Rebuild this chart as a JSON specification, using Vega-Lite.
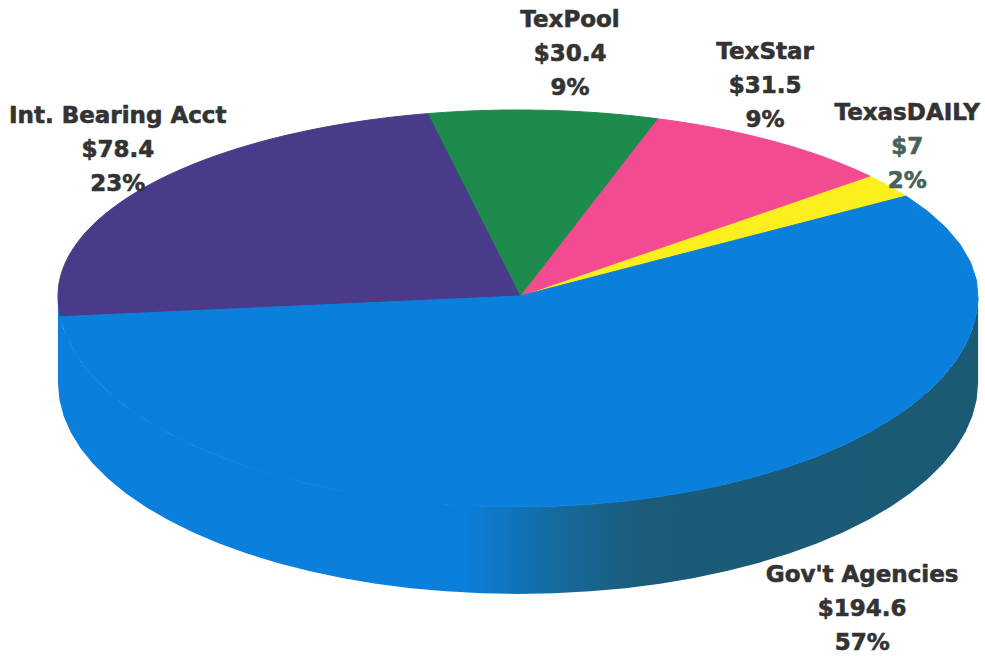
{
  "$schema": "https://vega.github.io/schema/vega-lite/v6.json",
  "width": 985,
  "height": 656,
  "padding": 0,
  "autosize": {"type": "none"},
  "background": "#ffffff",
  "view": {"stroke": null},
  "datasets": {
    "holdings": [
      {"name": "TexasDAILY", "value": 7, "pct": 2},
      {"name": "TexStar", "value": 31.5, "pct": 9},
      {"name": "TexPool", "value": 30.4, "pct": 9},
      {"name": "Int. Bearing Acct", "value": 78.4, "pct": 23},
      {"name": "Gov't Agencies", "value": 194.6, "pct": 57}
    ]
  },
  "data": {"name": "holdings"},
  "layer": [
    {
      "description": "Side wall of the tilted disc, below the front half of the top face",
      "transform": [
        {"filter": "datum.name === \"Gov't Agencies\""},
        {"calculate": "[0,0.025,0.05,0.075,0.1,0.125,0.15,0.175,0.2,0.225,0.25,0.275,0.3,0.325,0.35,0.375,0.4,0.425,0.45,0.475,0.5,0.525,0.55,0.575,0.6,0.625,0.65,0.675,0.7,0.725,0.75,0.775,0.8,0.825,0.85,0.875,0.9,0.925,0.95,0.975,1]", "as": "t"},
        {"flatten": ["t"]},
        {"calculate": "PI + datum.t * PI", "as": "a"},
        {"calculate": "cos(datum.a)", "as": "px"},
        {"calculate": "1.134 * sin(datum.a)", "as": "py"},
        {"calculate": "datum.py - 0.468", "as": "py2"}
      ],
      "mark": {
        "type": "area",
        "color": {
          "gradient": "linear",
          "x1": 0, "y1": 0, "x2": 1, "y2": 0,
          "stops": [
            {"offset": 0, "color": "#0b7fdc"},
            {"offset": 0.44, "color": "#0b7fdc"},
            {"offset": 0.5, "color": "#1073b8"},
            {"offset": 0.55, "color": "#17699a"},
            {"offset": 0.64, "color": "#1b5b78"},
            {"offset": 1, "color": "#1b5a74"}
          ]
        }
      },
      "encoding": {
        "x": {"field": "px", "type": "quantitative", "scale": {"domain": [-1.126, 1.015]}, "axis": null},
        "y": {"field": "py", "type": "quantitative", "scale": {"domain": [-1.9355, 1.5914]}, "axis": null},
        "y2": {"field": "py2"}
      }
    },
    {
      "description": "Top face: each wedge spans an angle proportional to its value, with a slight perspective warp",
      "transform": [
        {"joinaggregate": [{"op": "sum", "field": "value", "as": "total"}]},
        {"window": [{"op": "sum", "field": "value", "as": "cum"}], "frame": [null, 0]},
        {"calculate": "0.524 + 2 * PI * (datum.cum - datum.value) / datum.total", "as": "a0"},
        {"calculate": "0.524 + 2 * PI * datum.cum / datum.total", "as": "a1"},
        {"calculate": "[-1,0,0.025,0.05,0.075,0.1,0.125,0.15,0.175,0.2,0.225,0.25,0.275,0.3,0.325,0.35,0.375,0.4,0.425,0.45,0.475,0.5,0.525,0.55,0.575,0.6,0.625,0.65,0.675,0.7,0.725,0.75,0.775,0.8,0.825,0.85,0.875,0.9,0.925,0.95,0.975,1]", "as": "t"},
        {"flatten": ["t"]},
        {"calculate": "datum.a0 + max(datum.t, 0) * (datum.a1 - datum.a0)", "as": "b"},
        {"calculate": "datum.b + 0.05 * sin(2 * datum.b)", "as": "a"},
        {"calculate": "datum.t < 0 ? 0.004 : cos(datum.a)", "as": "px"},
        {"calculate": "datum.t < 0 ? 0 : sin(datum.a) * (sin(datum.a) < 0 ? 1.134 : 1)", "as": "py"}
      ],
      "mark": {"type": "line", "interpolate": "linear-closed", "strokeWidth": 1},
      "encoding": {
        "x": {"field": "px", "type": "quantitative", "scale": {"domain": [-1.126, 1.015]}, "axis": null},
        "y": {"field": "py", "type": "quantitative", "scale": {"domain": [-1.9355, 1.5914]}, "axis": null},
        "order": {"field": "t", "type": "quantitative"},
        "fill": {
          "field": "name", "type": "nominal", "legend": null,
          "scale": {
            "domain": ["TexasDAILY", "TexStar", "TexPool", "Int. Bearing Acct", "Gov't Agencies"],
            "range": ["#fbf01e", "#f44a92", "#1c8b4c", "#4a3a8a", "#0b7fdc"]
          }
        },
        "stroke": {
          "field": "name", "type": "nominal", "legend": null,
          "scale": {
            "domain": ["TexasDAILY", "TexStar", "TexPool", "Int. Bearing Acct", "Gov't Agencies"],
            "range": ["#fbf01e", "#f44a92", "#1c8b4c", "#4a3a8a", "#0b7fdc"]
          }
        }
      }
    },
    {
      "description": "Three-line labels: name, amount, share",
      "transform": [
        {"calculate": "({'TexPool':[0.113,1.484],'TexStar':[0.537,1.312],'TexasDAILY':[0.846,0.984],'Int. Bearing Acct':[-0.87,0.968],\"Gov't Agencies\":[0.748,-1.5]})[datum.name]", "as": "anchor"},
        {"calculate": "[datum.name, '$' + datum.value, datum.pct + '%']", "as": "line"},
        {"calculate": "[0,1,2]", "as": "row"},
        {"flatten": ["line", "row"]},
        {"calculate": "datum.anchor[0]", "as": "lx"},
        {"calculate": "datum.anchor[1] - datum.row * 0.183", "as": "ly"}
      ],
      "mark": {"type": "text", "font": "DejaVu Sans", "fontWeight": "bold", "fontSize": 23, "baseline": "middle", "align": "center", "strokeWidth": 0.6},
      "encoding": {
        "x": {"field": "lx", "type": "quantitative", "scale": {"domain": [-1.126, 1.015]}, "axis": null},
        "y": {"field": "ly", "type": "quantitative", "scale": {"domain": [-1.9355, 1.5914]}, "axis": null},
        "text": {"field": "line", "type": "nominal"},
        "fill": {
          "condition": {"test": "datum.name === 'TexasDAILY' && datum.row > 0", "value": "#46625a"},
          "value": "#333333"
        },
        "stroke": {
          "condition": {"test": "datum.name === 'TexasDAILY' && datum.row > 0", "value": "#46625a"},
          "value": "#333333"
        }
      }
    }
  ]
}
